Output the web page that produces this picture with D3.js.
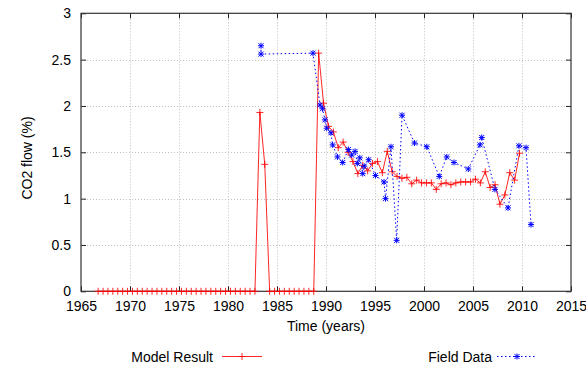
<!DOCTYPE html>
<html><head><meta charset="utf-8">
<script src="https://cdn.jsdelivr.net/npm/d3@7/dist/d3.min.js"></script>
<style>body{margin:0;background:#fff}svg{display:block}</style></head>
<body>
<script>
// ---- data ----
const modelYears = [1966.75,1967.25,1967.75,1968.25,1968.75,1969.25,1969.75,1970.25,1970.75,1971.25,1971.75,1972.25,1972.75,1973.25,1973.75,1974.25,1974.75,1975.25,1975.75,1976.25,1976.75,1977.25,1977.75,1978.25,1978.75,1979.25,1979.75,1980.25,1980.75,1981.25,1981.75,1982.25,1982.75,
  1983.25,1983.75,1984.25,1984.75,1985.25,1985.75,1986.25,1986.75,1987.25,1987.75,1988.25,1988.75,
  1989.25,1989.75,1990.25,1990.75,1991.25,1991.75,1992.25,1992.75,1993.25,1993.75,1994.25,1994.75,1995.25,1995.75,
  1996.25,1996.75,1997.25,1997.75,1998.25,1998.75,1999.25,1999.75,2000.25,2000.75,2001.25,2001.75,2002.25,2002.75,
  2003.25,2003.75,2004.25,2004.75,2005.25,2005.75,2006.25,2006.75,2007.25,2007.75,2008.25,2008.75,2009.25,2009.75];
const modelValues = [0,0,0,0,0,0,0,0,0,0,0,0,0,0,0,0,0,0,0,0,0,0,0,0,0,0,0,0,0,0,0,0,0,
  1.93,1.37,0,0,0,0,0,0,0,0,0,0,
  2.57,2.03,1.78,1.72,1.55,1.61,1.50,1.40,1.27,1.36,1.30,1.38,1.40,1.28,
  1.51,1.29,1.24,1.22,1.23,1.16,1.20,1.17,1.17,1.17,1.10,1.16,1.17,1.15,
  1.17,1.18,1.18,1.18,1.21,1.17,1.29,1.12,1.15,0.94,1.04,1.28,1.20,1.49];
const fieldYears = [1983.37,1983.37,1988.67,1989.39,1989.64,1989.9,1990.07,1990.5,1990.68,1991.17,1991.7,
  1992.28,1992.62,1992.96,1993.2,1993.45,1993.75,1993.9,1994.35,1995.05,1995.92,1996.07,1996.63,1997.21,1997.76,
  1999.03,2000.28,2001.56,2002.32,2003.06,2004.52,2005.71,2005.89,2007.24,2008.57,2009.69,2010.41,2010.92];
const fieldValues = [2.65,2.56,2.57,2.01,1.97,1.85,1.76,1.71,1.58,1.45,1.39,
  1.53,1.47,1.51,1.38,1.44,1.27,1.35,1.42,1.25,1.18,1.00,1.56,0.55,1.90,
  1.60,1.56,1.24,1.45,1.39,1.32,1.58,1.66,1.10,0.90,1.57,1.55,0.72];
const xTicks = [1965,1970,1975,1980,1985,1990,1995,2000,2005,2010,2015];
const yTicks = [0,0.5,1,1.5,2,2.5,3];
const yTickLabels = ["0","0.5","1","1.5","2","2.5","3"];
const legendLabels = ["Model Result","Field Data"];

// ---- drawing ----
const W = 586, H = 366;
const L = 81, R = 571, T = 13.3, B = 291.3;
const font = "Liberation Sans, Arial, Helvetica, sans-serif";
const svg = d3.select("body").append("svg").attr("width", W).attr("height", H)
  .style("font-family", font);
const x = d3.scaleLinear().domain([1965, 2015]).range([L, R]);
const y = d3.scaleLinear().domain([0, 3]).range([B, T]);

// grid
const grid = svg.append("g").attr("stroke", "#b0b0b0").attr("stroke-width", 0.8)
  .attr("stroke-dasharray", "1,2").attr("fill", "none");
grid.selectAll("line.gx").data(xTicks.slice(1, -1)).join("line")
  .attr("x1", d => x(d) + 0.5).attr("x2", d => x(d) + 0.5).attr("y1", T).attr("y2", B);
grid.selectAll("line.gy").data(yTicks.slice(1, -1)).join("line")
  .attr("y1", d => Math.round(y(d)) + 0.5).attr("y2", d => Math.round(y(d)) + 0.5).attr("x1", L).attr("x2", R);

// axes (ticks inward, labels outside)
const xAxis = d3.axisBottom(x).tickValues(xTicks).tickSizeInner(-5).tickSizeOuter(0).tickPadding(10).tickFormat(d3.format("d"));
const gx = svg.append("g").attr("transform", `translate(0,${B})`).call(xAxis);
gx.select(".domain").remove();
gx.selectAll("line").attr("stroke", "#222");
gx.selectAll("text").attr("font-size", 14).attr("font-family", font).attr("fill", "#000");

const yAxis = d3.axisLeft(y).tickValues(yTicks).tickSizeInner(-5).tickSizeOuter(0).tickPadding(10)
  .tickFormat((d, i) => yTickLabels[i]);
const gy = svg.append("g").attr("transform", `translate(${L},0)`).call(yAxis);
gy.select(".domain").remove();
gy.selectAll("line").attr("stroke", "#222");
gy.selectAll("text").attr("font-size", 14).attr("font-family", font).attr("fill", "#000");

// mirrored ticks on top and right
const gxt = svg.append("g").attr("transform", `translate(0,${T})`)
  .call(d3.axisTop(x).tickValues(xTicks).tickSizeInner(-5).tickSizeOuter(0).tickFormat(""));
gxt.select(".domain").remove(); gxt.selectAll("line").attr("stroke", "#222");
const gyr = svg.append("g").attr("transform", `translate(${R},0)`)
  .call(d3.axisRight(y).tickValues(yTicks).tickSizeInner(-5).tickSizeOuter(0).tickFormat(""));
gyr.select(".domain").remove(); gyr.selectAll("line").attr("stroke", "#222");

// border
svg.append("rect").attr("x", L).attr("y", T).attr("width", R - L).attr("height", B - T)
  .attr("fill", "none").attr("stroke", "#333").attr("stroke-width", 1.2);

// series
const plus = "M-3.5,0H3.5M0,-3.5V3.5";
const star = "M-3,0H3M0,-3V3M-2.5,-2.5L2.5,2.5M-2.5,2.5L2.5,-2.5";
const model = modelYears.map((d, i) => [d, modelValues[i]]);
const field = fieldYears.map((d, i) => [d, fieldValues[i]]);
const line = d3.line().x(d => x(d[0])).y(d => y(d[1]));

svg.append("path").datum(model).attr("d", line).attr("fill", "none")
  .attr("stroke", "#ff0000").attr("stroke-width", 1).attr("stroke-opacity", 0.85);
svg.append("g").selectAll("path").data(model).join("path")
  .attr("transform", d => `translate(${x(d[0])},${y(d[1])})`).attr("d", plus)
  .attr("stroke", "#ff0000").attr("stroke-width", 1).attr("stroke-opacity", 0.85).attr("fill", "none");

svg.append("path").datum(field).attr("d", line).attr("fill", "none")
  .attr("stroke", "#0000ff").attr("stroke-width", 1).attr("stroke-dasharray", "1.5,2.5");
svg.append("g").selectAll("path").data(field).join("path")
  .attr("transform", d => `translate(${x(d[0])},${y(d[1])})`).attr("d", star)
  .attr("stroke", "#0000ff").attr("stroke-width", 1).attr("fill", "none");

// axis titles
svg.append("text").attr("x", (L + R) / 2).attr("y", 331).attr("text-anchor", "middle")
  .attr("font-size", 14).text("Time (years)");
svg.append("text").attr("transform", "translate(32,158) rotate(-90)").attr("text-anchor", "middle")
  .attr("font-size", 14).text("CO2 flow (%)");

// legend
const leg = svg.append("g");
leg.append("text").attr("x", 213).attr("y", 362).attr("text-anchor", "end").attr("font-size", 14).text(legendLabels[0]);
leg.append("line").attr("x1", 222).attr("x2", 262).attr("y1", 356.5).attr("y2", 356.5)
  .attr("stroke", "#ff0000").attr("stroke-opacity", 0.85);
leg.append("path").attr("transform", "translate(242,356.5)").attr("d", plus).attr("stroke", "#ff0000").attr("stroke-opacity", 0.85);
leg.append("text").attr("x", 492).attr("y", 362).attr("text-anchor", "end").attr("font-size", 14).text(legendLabels[1]);
leg.append("line").attr("x1", 497).attr("x2", 537).attr("y1", 356.5).attr("y2", 356.5)
  .attr("stroke", "#0000ff").attr("stroke-dasharray", "1.5,2.5");
leg.append("path").attr("transform", "translate(517,356.5)").attr("d", star).attr("stroke", "#0000ff");
</script>
</body></html>
